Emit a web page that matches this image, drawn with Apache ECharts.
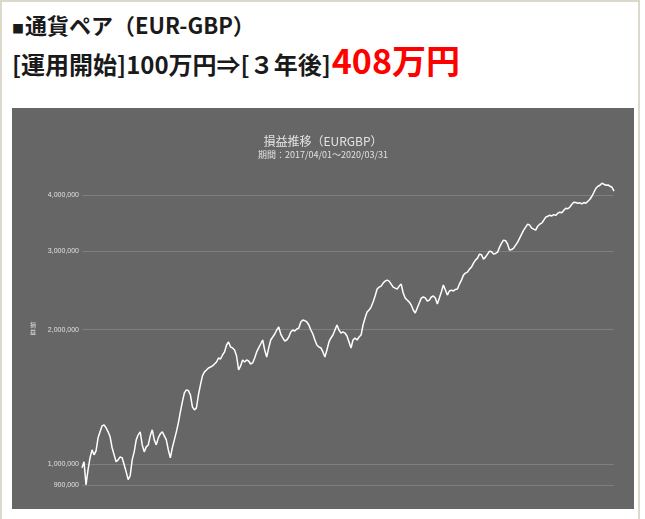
<!DOCTYPE html>
<html>
<head>
<meta charset="utf-8">
<script src="https://cdn.jsdelivr.net/npm/echarts@6/dist/echarts.min.js"></script>
<style>
  html, body { margin: 0; padding: 0; background: #fff; }
  body { width: 645px; height: 519px; position: relative; overflow: hidden; }
  #frame { position: absolute; left: 0; top: 0; width: 640px; height: 530px; border-left: 2px solid #dcd8cc; border-top: 2px solid #dcd8cc; border-right: 2px solid #dcd8cc; box-sizing: border-box; }
  .hd { position: absolute; font-family: 'Noto Sans CJK JP', 'Noto Sans', sans-serif; font-weight: 700; color: #1a1a1a; line-height: 1; white-space: nowrap; }
  #l1 { left: 12px; top: 13px; display: flex; align-items: baseline; }
  #l1 .sq { font-size: 12px; margin-right: 1px; }
  #l1 .t { font-size: 22px; }
  #l2 { left: 12px; top: 43px; display: flex; align-items: baseline; }
  #l2 .b { font-size: 24px; }
  #l2 .r { font-size: 34px; color: #ff0000; margin-left: 1px; }
  #chart { position: absolute; left: 12px; top: 108px; width: 622px; height: 401px; }
</style>
</head>
<body>
<div id="frame"></div>
<div class="hd" id="l1"><span class="sq">■</span><span class="t">通貨ペア（EUR-GBP）</span></div>
<div class="hd" id="l2"><span class="b">[運用開始]100万円⇒[３年後]</span><span class="r">408万円</span></div>
<div id="chart"></div>
<script>
// Title texts
const chartTitle = '損益推移（EURGBP）';
const chartSubtitle = '期間：2017/04/01～2020/03/31';
const yAxisName = '損\n益';

// Y tick labels (log scale gridlines)
const yTicks = [900000, 1000000, 2000000, 3000000, 4000000];

// Balance (JPY), in time order
const balance = [
  983000, 1014000, 901000, 973000, 1035000, 1078000, 1051000, 1073000, 1147000, 1183000,
  1220000, 1226000, 1207000, 1183000, 1153000, 1090000, 1051000, 1014000, 1024000, 1040000,
  1035000, 999000, 963000, 925000, 944000, 1024000, 1067000, 1135000, 1165000, 1183000,
  1106000, 1067000, 1095000, 1106000, 1159000, 1195000, 1135000, 1106000, 1147000, 1171000,
  1183000, 1159000, 1135000, 1078000, 1035000, 1090000, 1135000, 1183000, 1239000, 1311000,
  1380000, 1445000, 1468000, 1462000, 1430000, 1345000, 1324000, 1338000, 1430000, 1506000,
  1577000, 1610000, 1626000, 1643000, 1651000, 1660000, 1677000, 1694000, 1729000, 1720000,
  1756000, 1784000, 1849000, 1878000, 1830000, 1821000, 1802000, 1747000, 1626000, 1660000,
  1712000, 1694000, 1712000, 1703000, 1677000, 1686000, 1729000, 1784000, 1821000, 1858000,
  1897000, 1802000, 1738000, 1821000, 1897000, 1926000, 1956000, 1997000, 2028000, 1956000,
  1917000, 1887000, 1897000, 1926000, 1977000, 1997000, 1987000, 2007000, 2017000, 2081000,
  2102000, 2095000, 2081000, 2049000, 1997000, 1956000, 1897000, 1849000, 1830000, 1821000,
  1784000, 1738000, 1802000, 1878000, 1917000, 1946000, 1997000, 2049000, 1997000, 1966000,
  1977000, 1966000, 1936000, 1878000, 1821000, 1897000, 1917000, 1897000, 1926000, 1946000,
  2049000, 2124000, 2190000, 2213000, 2247000, 2306000, 2378000, 2465000, 2490000, 2503000,
  2542000, 2568000, 2581000, 2568000, 2529000, 2490000, 2477000, 2465000, 2503000, 2529000,
  2415000, 2353000, 2329000, 2306000, 2270000, 2213000, 2179000, 2236000, 2294000, 2353000,
  2366000, 2355000, 2317000, 2329000, 2366000, 2378000, 2353000, 2282000, 2353000, 2427000,
  2516000, 2452000, 2390000, 2440000, 2452000, 2440000, 2460000, 2465000, 2529000, 2581000,
  2648000, 2676000, 2690000, 2731000, 2760000, 2817000, 2860000, 2890000, 2950000, 2940000,
  2875000, 2905000, 2950000, 2996000, 2985000, 2950000, 2960000, 2980000, 3058000, 3121000,
  3170000, 3160000, 3105000, 3011000, 3020000, 3042000, 3089000, 3137000, 3202000, 3269000,
  3337000, 3388000, 3441000, 3423000, 3371000, 3354000, 3337000, 3406000, 3441000, 3459000,
  3512000, 3567000, 3585000, 3604000, 3590000, 3615000, 3600000, 3641000, 3660000, 3650000,
  3698000, 3736000, 3725000, 3755000, 3813000, 3852000, 3845000, 3833000, 3840000, 3820000,
  3845000, 3833000, 3872000, 3912000, 3973000, 4055000, 4140000, 4182000, 4204000, 4247000,
  4225000, 4204000, 4210000, 4182000, 4161000, 4080000
];

// Category positions (one per observation; dates are not shown on the picture)
const days = balance.map((_, i) => String(i + 1));

const fmt = v => Number(v).toLocaleString('en-US');

const chart = echarts.init(document.getElementById('chart'), null, { renderer: 'canvas' });
chart.setOption({
  animation: false,
  backgroundColor: '#666666',
  title: {
    text: chartTitle,
    subtext: chartSubtitle,
    left: 'center',
    top: 22,
    itemGap: 3,
    textStyle: { color: '#e4e4e4', fontSize: 12, fontWeight: 'normal', fontFamily: 'Noto Sans CJK JP' },
    subtextStyle: { color: '#e0e0e0', fontSize: 9, fontFamily: 'Noto Sans CJK JP' }
  },
  grid: { left: 70, right: 20, top: 64, bottom: 24, containLabel: false },
  xAxis: {
    type: 'category',
    data: days,
    boundaryGap: false,
    show: false
  },
  yAxis: {
    type: 'log',
    logBase: 10,
    min: 900000,
    max: 4500000,
    name: yAxisName,
    nameLocation: 'middle',
    nameRotate: 0,
    nameGap: 46,
    nameTextStyle: { color: '#e0e0e0', fontSize: 6, lineHeight: 7, fontFamily: 'Noto Sans CJK JP' },
    axisLine: { show: false },
    axisTick: { show: false },
    axisLabel: { show: false },
    splitLine: { show: false }
  },
  series: [{
    type: 'line',
    data: balance,
    showSymbol: false,
    z: 3,
    lineStyle: { color: '#ffffff', width: 1.5 },
    markLine: {
      silent: true,
      symbol: 'none',
      z: 1,
      lineStyle: { color: '#7e7e7e', type: 'solid', width: 1 },
      label: {
        show: true,
        position: 'start',
        distance: 3,
        color: '#e0e0e0',
        fontSize: 7,
        fontFamily: 'Liberation Sans',
        formatter: p => fmt(p.value)
      },
      data: yTicks.map(v => ({ yAxis: v }))
    }
  }]
});
</script>
</body>
</html>
